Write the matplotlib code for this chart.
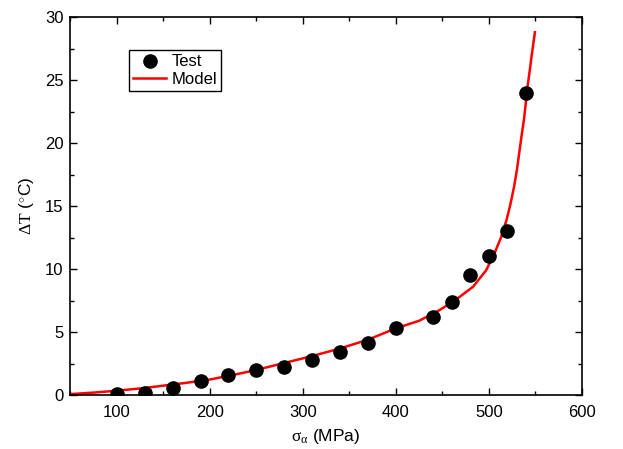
import matplotlib
matplotlib.use("Agg")
import matplotlib.pyplot as plt
from matplotlib.ticker import MultipleLocator

plt.rcParams['font.family'] = ['Liberation Sans', 'DejaVu Sans']
plt.rcParams['mathtext.fontset'] = 'custom'
plt.rcParams['mathtext.rm'] = 'Liberation Serif'
plt.rcParams['mathtext.it'] = 'Liberation Serif'

test_stress = [100, 130, 160, 190, 220, 250, 280, 310, 340, 370, 400, 440, 460, 480, 500, 520, 540]
test_dT = [0.05, 0.2, 0.6, 1.1, 1.6, 2.0, 2.2, 2.8, 3.4, 4.1, 5.3, 6.2, 7.4, 9.5, 11.0, 13.0, 24.0]

model_stress = [50, 75, 100, 125, 150, 175, 200, 225, 250, 280, 310, 340, 370, 400, 425, 447, 465,
                483, 497, 506, 513, 519, 523, 527, 530, 532.6, 535, 537.6, 540, 541.6, 544, 546.3, 548, 549.5]
model_dT = [0.08, 0.2, 0.35, 0.53, 0.75, 0.98, 1.24, 1.6, 2.0, 2.55, 3.1, 3.7, 4.4, 5.3, 5.9, 6.75, 7.6,
            8.6, 9.9, 11.25, 12.5, 13.9, 15.1, 16.5, 17.8, 19.2, 20.5, 21.8, 23.4, 24.5, 25.8, 27.1, 28.0, 28.8]

fig = plt.figure(figsize=(6.23, 4.49), dpi=100)
ax = fig.add_axes([0.113, 0.12, 0.821, 0.842])

ax.plot(test_stress, test_dT, 'o', color='black', markersize=9.5, label='Test', zorder=3)
ax.plot(model_stress, model_dT, '-', color='red', linewidth=1.8, label='Model', zorder=2,
        solid_joinstyle='round')

ax.set_xlim(50, 600)
ax.set_ylim(0, 30)
ax.xaxis.set_major_locator(MultipleLocator(100))
ax.xaxis.set_minor_locator(MultipleLocator(50))
ax.yaxis.set_major_locator(MultipleLocator(5))
ax.yaxis.set_minor_locator(MultipleLocator(2.5))
ax.tick_params(which='both', direction='in', top=True, right=True, labelsize=12)
ax.tick_params(which='major', length=5, width=1)
ax.tick_params(which='minor', length=3, width=1)
ax.tick_params(axis='x', pad=7)
ax.tick_params(axis='y', pad=5)
for s in ax.spines.values():
    s.set_linewidth(1.2)

ax.set_xlabel(r'$\mathrm{\sigma_{\alpha}}$ (MPa)', fontsize=12.5, labelpad=5)
ax.set_ylabel(r'$\mathrm{\Delta T}$ ($\mathrm{^{\circ}}$C)', fontsize=12.5, labelpad=6)

leg = ax.legend(loc='upper left', bbox_to_anchor=(0.114, 0.912), fontsize=12,
                frameon=True, fancybox=False, edgecolor='black', framealpha=1,
                borderpad=0.25, labelspacing=0.15, handlelength=2.0, handletextpad=0.3,
                borderaxespad=0)
leg.get_frame().set_linewidth(1.0)

fig.savefig('out.png', dpi=100)
